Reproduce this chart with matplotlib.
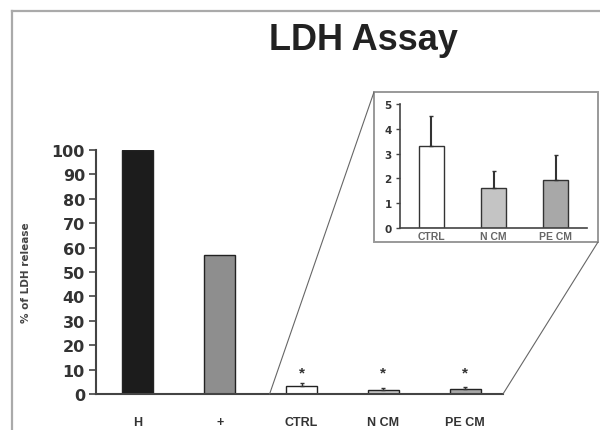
import matplotlib
matplotlib.use("Agg")
import matplotlib.pyplot as plt
from matplotlib.patches import Rectangle, ConnectionPatch
from matplotlib.lines import Line2D

# data
groups = ["H", "+", "CTRL", "N CM", "PE CM"]
ldh = [100, 57, 3.3, 1.6, 1.95]
ldh_err = [0, 0, 1.2, 0.7, 1.0]
colors = ["#1c1c1c", "#8e8e8e", "#ffffff", "#c4c4c4", "#a8a8a8"]

inset_groups = ["CTRL", "N CM", "PE CM"]
inset_vals = [3.3, 1.6, 1.95]
inset_err = [1.2, 0.7, 1.0]
inset_colors = ["#ffffff", "#c4c4c4", "#a8a8a8"]

star_groups = ["CTRL", "N CM", "PE CM"]

axcol = "#444444"

fig = plt.figure(figsize=(6, 4.31), dpi=100)
fig.patch.set_facecolor("white")

# frame lines (top and left)
fig.add_artist(Line2D([12 / 600, 1], [1 - 12 / 431, 1 - 12 / 431], color="#aaaaaa", lw=1.6))
fig.add_artist(Line2D([12 / 600, 12 / 600], [0, 1 - 12 / 431], color="#aaaaaa", lw=1.6))

fig.text(363 / 600, 1 - 40 / 431, "LDH Assay", fontsize=26, fontweight="bold",
         family="Liberation Sans", color="#222222", ha="center", va="center")

# main axes
ax = fig.add_axes([96 / 600, 1 - 395 / 431, (503 - 96) / 600, (395 - 151) / 431])
x = list(range(len(groups)))
ax.bar(x, ldh, width=0.38, color=colors, edgecolor="#222222", linewidth=1)
# only the upper half of the error bars, and only where there is one
ex = [i for i in x if ldh_err[i] > 0]
ax.errorbar(ex, [ldh[i] for i in ex], yerr=[[0] * len(ex), [ldh_err[i] for i in ex]],
            fmt="none", ecolor="#333333", elinewidth=1, capsize=1.5)
ax.set_xlim(-0.51, 4.46)
ax.set_ylim(0, 100)
ax.set_yticks(range(0, 101, 10))
ax.set_xticks(x)
ax.set_xticklabels(groups, fontsize=9, fontweight="bold", family="Liberation Sans", color="#333333")
for lab in ax.get_yticklabels():
    lab.set_fontsize(11.5)
    lab.set_fontweight("bold")
    lab.set_color("#333333")
ax.tick_params(axis="x", length=0, pad=16)
ax.tick_params(axis="y", length=5, width=1.2, color=axcol, pad=3)
for s in ["top", "right"]:
    ax.spines[s].set_visible(False)
for s in ["left", "bottom"]:
    ax.spines[s].set_color(axcol)
    ax.spines[s].set_linewidth(1.5)
ax.set_ylabel("% of LDH release", fontsize=7.5, fontweight="bold", color="#444444")
ax.yaxis.set_label_coords(-0.16, 0.5)

for g in star_groups:
    i = groups.index(g)
    ax.text(i, 9, "*", ha="center", va="center", fontsize=11, fontweight="bold",
            family="Liberation Sans", color="#333333")

# inset box
bx0, by0, bx1, by1 = 374 / 600, 1 - 243 / 431, 598 / 600, 1 - 93 / 431
box = Rectangle((bx0, by0), bx1 - bx0, by1 - by0, transform=fig.transFigure,
                fill=False, edgecolor="#999999", lw=1.4)
fig.add_artist(box)

# connecting lines
fig.add_artist(ConnectionPatch(xyA=(1.61, 0), coordsA=ax.transData,
                               xyB=(bx0, by1), coordsB=fig.transFigure,
                               color="#666666", lw=0.8))
fig.add_artist(ConnectionPatch(xyA=(4.46, 0), coordsA=ax.transData,
                               xyB=(bx1, by0), coordsB=fig.transFigure,
                               color="#666666", lw=0.8))

# inset axes
ia = fig.add_axes([400 / 600, 1 - 229 / 431, (587 - 400) / 600, (229 - 105) / 431])
xi = list(range(len(inset_groups)))
ia.bar(xi, inset_vals, width=0.4, color=inset_colors, edgecolor="#333333", linewidth=1)
ia.errorbar(xi, inset_vals, yerr=[[0] * len(inset_vals), inset_err],
            fmt="none", ecolor="#333333", elinewidth=1.5, capsize=1.5)
ia.set_xlim(-0.5, 2.5)
ia.set_ylim(0, 5)
ia.set_yticks(range(0, 6))
ia.set_xticks(xi)
ia.set_xticklabels(inset_groups, fontsize=7.5, fontweight="bold", family="Liberation Sans", color="#666666")
for lab in ia.get_yticklabels():
    lab.set_fontsize(7.5)
    lab.set_fontweight("bold")
    lab.set_color("#333333")
ia.tick_params(axis="x", length=0, pad=2)
ia.tick_params(axis="y", length=3, width=1, color=axcol, pad=3)
for s in ["top", "right"]:
    ia.spines[s].set_visible(False)
for s in ["left", "bottom"]:
    ia.spines[s].set_color(axcol)
    ia.spines[s].set_linewidth(1.2)

fig.savefig("out.png", dpi=100)
